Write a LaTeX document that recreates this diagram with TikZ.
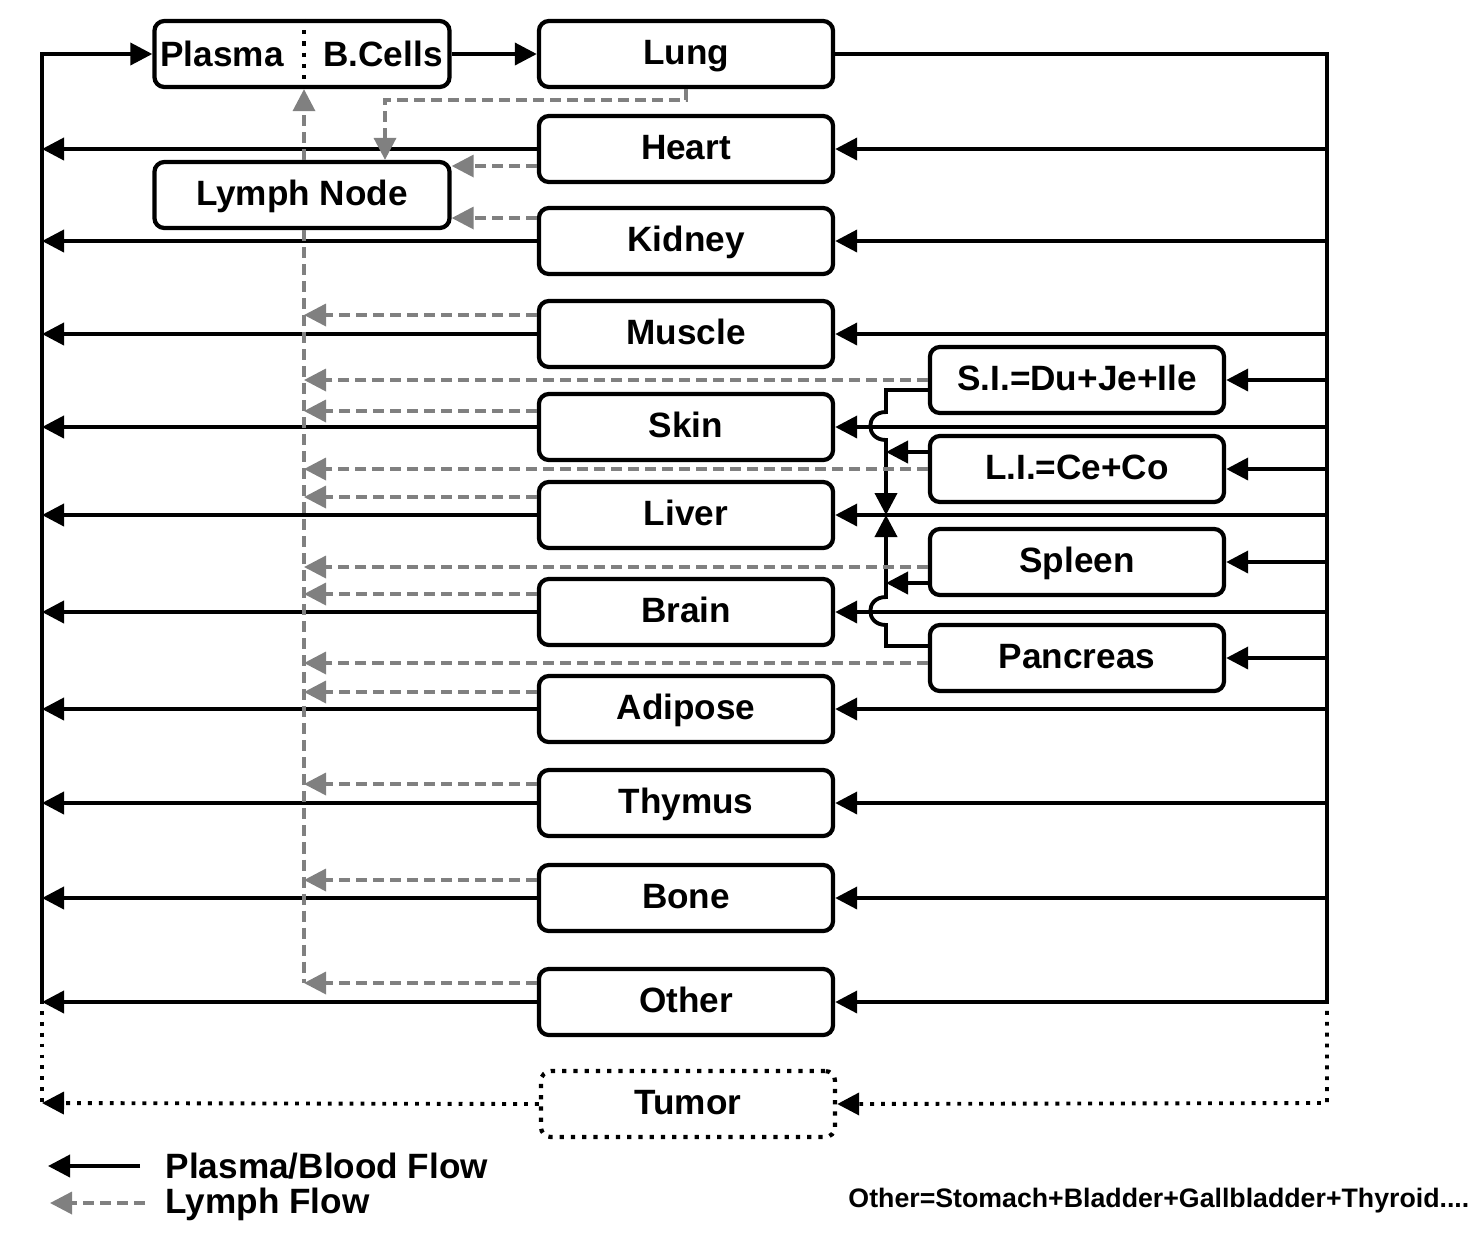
\documentclass[tikz,border=0pt]{standalone}
\usepackage{fontspec}
\setmainfont{Liberation Sans}
\usetikzlibrary{arrows.meta}
\definecolor{lymphgray}{RGB}{128,128,128}
\tikzset{
  organ/.style={draw, line width=1.2pt, rounded corners=0.1cm, minimum width=2.94cm, minimum height=0.66cm, inner sep=0pt, text height=0.72em, text depth=0.12em, font=\bfseries\fontsize{10}{12}\selectfont},
  flow/.style={line width=1.1pt},
  blood/.style={flow, -{Triangle[length=0.22cm,width=0.22cm]}},
  lymphline/.style={lymphgray, line width=1pt, dash pattern=on 0.11cm off 0.06cm},
  lymph/.style={lymphline, -{Triangle[length=0.22cm,width=0.22cm]}},
  legend/.style={anchor=west, inner sep=0pt, font=\bfseries\fontsize{10}{12}\selectfont},
}

\begin{document}
\begin{tikzpicture}[x=0.01cm, y=-0.01cm]
		%%%%% START %%%%%
		\useasboundingbox (0,0) rectangle (1484,1238);
		
		% buses
		\coordinate (lt) at (42,54);
		\coordinate (rt) at (1327,54);
		\coordinate (lb) at (42,1000);
		\coordinate (rb) at (1327,1000);
		\coordinate (ltum) at (42,1103);
		\coordinate (rtum) at (1327,1103);
		\coordinate (lyb) at (304,983);
		\coordinate (port) at (886,515);
		
		% boxes
		\node[organ, minimum width=2.95cm] (pb) at (302,54) {};
		\node[font=\bfseries\fontsize{10}{12}\selectfont] (plasma) at (222,54) {Plasma};
		\node[font=\bfseries\fontsize{10}{12}\selectfont] (bcells) at (383,54) {B.Cells};
		\draw[line width=1.2pt, dotted] (pb.north -| lyb) -- (pb.south -| lyb);
		\node[organ, minimum width=2.95cm] (ln) at (302,195) {Lymph Node};
		
		\node[organ] (lung) at (686,54) {Lung};
		\node[organ] (heart) at (686,149) {Heart};
		\node[organ] (kidney) at (686,241) {Kidney};
		\node[organ] (muscle) at (686,334) {Muscle};
		\node[organ] (skin) at (686,427) {Skin};
		\node[organ] (liver) at (686,515) {Liver};
		\node[organ] (brain) at (686,612) {Brain};
		\node[organ] (adipose) at (686,709) {Adipose};
		\node[organ] (thymus) at (686,803) {Thymus};
		\node[organ] (bone) at (686,898) {Bone};
		\node[organ] (other) at (686,1002) {Other};
		\node[organ, dotted] (tumor) at (688,1104) {Tumor};
		
		\node[organ] (si) at (1077,380) {S.I.=Du+Je+Ile};
		\node[organ] (li) at (1077,469) {L.I.=Ce+Co};
		\node[organ] (spleen) at (1077,562) {Spleen};
		\node[organ] (pan) at (1077,658) {Pancreas};
		
		% plasma / blood
		\draw[blood] (lb) -- (lt) -- (pb.west);
		\draw[blood] (pb.east) -- (lung.west);
		\draw[flow] (lung.east) -- (rt) -- (rb);
		
		\draw[blood] (heart.west) -- (heart.west -| lt);
		\draw[blood] (kidney.west) -- (kidney.west -| lt);
		\draw[blood] (muscle.west) -- (muscle.west -| lt);
		\draw[blood] (skin.west) -- (skin.west -| lt);
		\draw[blood] (liver.west) -- (liver.west -| lt);
		\draw[blood] (brain.west) -- (brain.west -| lt);
		\draw[blood] (adipose.west) -- (adipose.west -| lt);
		\draw[blood] (thymus.west) -- (thymus.west -| lt);
		\draw[blood] (bone.west) -- (bone.west -| lt);
		\draw[blood] (other.west) -- (other.west -| lt);
		
		\draw[blood] (heart.east -| rt) -- (heart.east);
		\draw[blood] (kidney.east -| rt) -- (kidney.east);
		\draw[blood] (muscle.east -| rt) -- (muscle.east);
		\draw[blood] (skin.east -| rt) -- (skin.east);
		\draw[blood] (liver.east -| rt) -- (liver.east);
		\draw[blood] (brain.east -| rt) -- (brain.east);
		\draw[blood] (adipose.east -| rt) -- (adipose.east);
		\draw[blood] (thymus.east -| rt) -- (thymus.east);
		\draw[blood] (bone.east -| rt) -- (bone.east);
		\draw[blood] (other.east -| rt) -- (other.east);
		
		\draw[blood] (si.east -| rt) -- (si.east);
		\draw[blood] (li.east -| rt) -- (li.east);
		\draw[blood] (spleen.east -| rt) -- (spleen.east);
		\draw[blood] (pan.east -| rt) -- (pan.east);
		
		% portal flow to liver, hopping over skin and brain lines
		\draw[blood] (si.west |- 0,390) -- (886,390) -- (886,412) .. controls (865,412) and (865,440) .. (886,440) -- (port);
		\draw[blood] (pan.west |- 0,646) -- (886,646) -- (886,625) .. controls (865,625) and (865,597) .. (886,597) -- (port);
		\draw[blood] (li.west |- 0,452) -- (886,452);
		\draw[blood] (spleen.west |- 0,583) -- (886,583);
		
		% tumor
		\draw[flow, dotted] (lb) -- (ltum);
		\draw[blood, dotted] (rb) -- (rtum) -- (tumor.east);
		\draw[blood, dotted] (tumor.west) -- (ltum);
		
		% lymph
		\draw[lymphline] (lyb |- ln.south) -- (lyb);
		\draw[lymph] (lyb |- ln.north) -- (lyb |- pb.south);
		\draw[lymph] (lung.south) -- (686,100) -- (385,100) -- (ln.north -| 385,100);
		\draw[lymph] (heart.west |- 0,166) -- (ln.east |- 0,166);
		\draw[lymph] (kidney.west |- 0,218) -- (ln.east |- 0,218);
		
		\draw[lymph] (muscle.west |- 0,315) -- (lyb |- 0,315);
		\draw[lymph] (si.west |- 0,380) -- (lyb |- 0,380);
		\draw[lymph] (skin.west |- 0,411) -- (lyb |- 0,411);
		\draw[lymph] (li.west |- 0,469) -- (lyb |- 0,469);
		\draw[lymph] (liver.west |- 0,497) -- (lyb |- 0,497);
		\draw[lymph] (spleen.west |- 0,567) -- (lyb |- 0,567);
		\draw[lymph] (brain.west |- 0,594) -- (lyb |- 0,594);
		\draw[lymph] (pan.west |- 0,663) -- (lyb |- 0,663);
		\draw[lymph] (adipose.west |- 0,692) -- (lyb |- 0,692);
		\draw[lymph] (thymus.west |- 0,784) -- (lyb |- 0,784);
		\draw[lymph] (bone.west |- 0,880) -- (lyb |- 0,880);
		\draw[lymph] (other.west |- 0,983) -- (lyb);
		
		% legend
		\coordinate (kb1) at (140,1166);
		\coordinate (kb2) at (48,1166);
		\coordinate (kl1) at (145,1203);
		\coordinate (kl2) at (50,1203);
		\draw[blood] (kb1) -- (kb2);
		\draw[lymph] (kl1) -- (kl2);
		\node[legend] (kbtext) at (165,1166) {Plasma/Blood Flow};
		\node[legend] (kltext) at (165,1204) {Lymph Flow};
		\node[anchor=east, inner sep=0pt, font=\bfseries\fontsize{7.6}{9}\selectfont] (note) at (1470,1201) {Other=Stomach+Bladder+Gallbladder+Thyroid....};
		%%%%% END %%%%%
	\end{tikzpicture}
\end{document}
